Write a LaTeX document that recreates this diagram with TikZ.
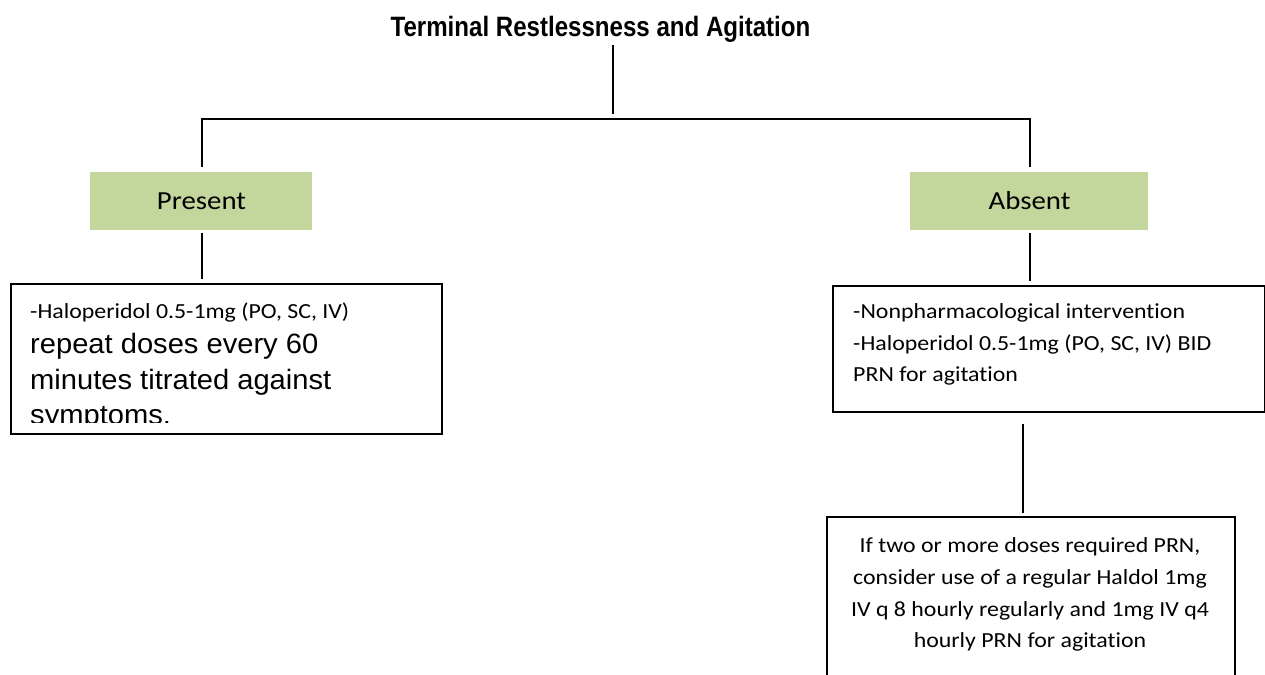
\documentclass[tikz,border=0pt]{standalone}
\usepackage{fontspec}
\setmainfont{Liberation Sans}
\newfontfamily\headfont[FakeStretch=0.86]{Liberation Sans}
\newfontfamily\arialbody[FakeStretch=1.04]{Liberation Sans}
\newfontfamily\calbody[FakeStretch=1.11,Ligatures=NoCommon]{Carlito}
\definecolor{leaf}{HTML}{C3D69B}

\begin{document}
\begin{tikzpicture}[x=1pt,y=-1pt,
  link/.style={draw=black, line width=1.6pt},
  frame/.style={draw=black, line width=1.8pt, fill=white, inner sep=0pt, anchor=north west},
  tag/.style={fill=leaf, inner sep=0pt, anchor=north west},
  small/.style={font=\calbody\fontsize{21.5}{26}\selectfont, inner sep=0pt},
  big/.style={font=\arialbody\fontsize{28}{33}\selectfont, inner sep=0pt},
  label/.style={font=\calbody\fontsize{26}{30}\selectfont, inner sep=0pt, anchor=base},
]
\useasboundingbox (0,0) rectangle (1265,674);

% heading
\node[font=\headfont\bfseries\fontsize{28}{30}\selectfont, anchor=base, inner sep=0pt]
  (title) at (600.5,37) {Terminal Restlessness and Agitation};

% branch boxes
\node[tag, minimum width=222pt, minimum height=58pt] (present) at (90,172) {};
\node[tag, minimum width=238pt, minimum height=58pt] (absent) at (910,172) {};
\node[label] (present-txt) at (201.5,209) {Present};
\node[label] (absent-txt) at (1029.5,209) {Absent};

% treatment boxes
\node[frame, minimum width=431pt, minimum height=150pt] (left) at (10,283) {};
\node[frame, minimum width=432pt, minimum height=126pt] (care) at (832,285) {};
\node[frame, minimum width=408pt, minimum height=200pt] (escal) at (826,516) {};

% connectors
\coordinate (stem) at (613,114);
\coordinate (fork-l) at (202,119);
\coordinate (fork-r) at (1030,119);
\coordinate (drop) at (1023,0);
\draw[link] ([yshift=-2pt]title.south -| stem) -- (stem);
\draw[link] ([yshift=5pt]present.north -| fork-l) -- (fork-l) -- (fork-r)
  -- ([yshift=5pt]absent.north -| fork-r);
\draw[link] ([yshift=-3pt]present.south -| fork-l) -- ([yshift=4pt]left.north -| fork-l);
\draw[link] ([yshift=-3pt]absent.south -| fork-r) -- ([yshift=4pt]care.north -| fork-r);
\draw[link] ([yshift=-11pt]care.south -| drop) -- ([yshift=3pt]escal.north -| drop);

% left box text, cut off at the inner edge
\begin{scope}
  \clip (11,284) rectangle (440,422);
  \node[small, anchor=base west] (l1) at (30,318) {-Haloperidol 0.5-1mg (PO, SC, IV)};
  \node[big, anchor=base west] (l2) at (30,353) {repeat doses every 60};
  \node[big, anchor=base west] (l3) at (30,389) {minutes titrated against};
  \node[big, anchor=base west] (l4) at (30,424.5) {symptoms.};
\end{scope}

% right box text
\node[small, anchor=base west] (r1) at (853,318) {-Nonpharmacological intervention};
\node[small, anchor=base west] (r2) at (853,350) {-Haloperidol 0.5-1mg (PO, SC, IV) BID};
\node[small, anchor=base west] (r3) at (853,381) {PRN for agitation};

% escalation text
\node[small, anchor=base] (b1) at (1030,552) {If two or more doses required PRN,};
\node[small, anchor=base] (b2) at (1030,584) {consider use of a regular Haldol 1mg};
\node[small, anchor=base] (b3) at (1030,616) {IV q 8 hourly regularly and 1mg IV q4};
\node[small, anchor=base] (b4) at (1030,647) {hourly PRN for agitation};
\end{tikzpicture}
\end{document}
